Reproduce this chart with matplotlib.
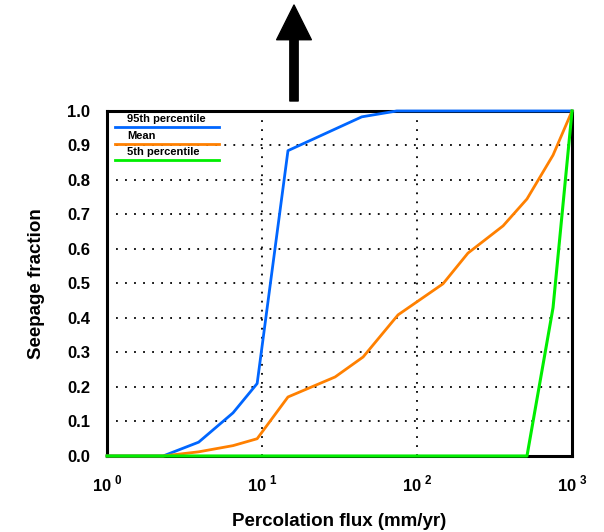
import matplotlib
matplotlib.use('Agg')
import matplotlib.pyplot as plt

plt.rcParams['font.family'] = ['Liberation Sans', 'DejaVu Sans']
plt.rcParams['font.weight'] = 'bold'
plt.rcParams['mathtext.fontset'] = 'custom'
plt.rcParams['mathtext.rm'] = 'Liberation Sans:bold'
plt.rcParams['mathtext.bf'] = 'Liberation Sans:bold'

# percolation flux (mm/yr) and seepage fraction for each curve
x_95 = [1, 2.3, 3.9, 6.5, 9.3, 14.7, 44, 74, 1000]
y_95 = [0.0, 0.0, 0.04, 0.125, 0.21, 0.885, 0.983, 1.0, 1.0]

x_mean = [1, 2.3, 3.9, 6.5, 9.3, 14.7, 29.6, 44.9, 75.4, 147, 213, 359, 512, 754, 1000]
y_mean = [0.0, 0.0, 0.012, 0.03, 0.05, 0.171, 0.229, 0.287, 0.409, 0.499, 0.588, 0.667, 0.745, 0.872, 1.0]

x_5 = [1, 512, 754, 1000]
y_5 = [0.0, 0.0, 0.43, 1.0]

labels = ['95th percentile', 'Mean', '5th percentile']
colors = ['#0066ff', '#ff8000', '#00ee00']

fig = plt.figure(figsize=(6.04, 5.32), dpi=100)
ax = fig.add_axes([0.1772, 0.1429, 0.7699, 0.6485])

ax.set_xscale('log')
ax.set_xlim(1, 1000)
ax.set_ylim(0, 1.0)

# dotted grid
for xv in [10, 100]:
    ax.axvline(xv, color='black', lw=1.3, ls=(0, (1, 4)), zorder=1)
for yv in [0.1, 0.2, 0.3, 0.4, 0.5, 0.6, 0.7, 0.8, 0.9]:
    ax.axhline(yv, color='black', lw=1.3, ls=(0, (1, 4)), zorder=1)

ax.plot(x_95, y_95, color=colors[0], lw=2, zorder=3, clip_on=False)
ax.plot(x_mean, y_mean, color=colors[1], lw=2, zorder=3, clip_on=False)
ax.plot(x_5, y_5, color=colors[2], lw=2.2, zorder=4, clip_on=False)

# legend: label above its line
leg_y = [0.977, 0.928, 0.881]
for lab, col, ty in zip(labels, colors, leg_y):
    ax.text(0.043, ty, lab, transform=ax.transAxes, fontsize=8,
            fontweight='bold', va='center', ha='left', zorder=5)
    ax.plot([0.017, 0.241], [ty - 0.024, ty - 0.024], transform=ax.transAxes,
            color=col, lw=2, zorder=5)

ax.set_xticks([1, 10, 100, 1000])
ax.set_xticklabels([r'$10^{\ 0}$', r'$10^{\ 1}$', r'$10^{\ 2}$', r'$10^{\ 3}$'])
ax.minorticks_off()
ax.set_yticks([i / 10 for i in range(11)])
ax.set_yticklabels(['%.1f' % (i / 10) for i in range(11)])
ax.tick_params(axis='both', length=0, labelsize=12)
ax.tick_params(axis='y', pad=12)
ax.tick_params(axis='x', pad=13)
for t in ax.get_xticklabels() + ax.get_yticklabels():
    t.set_fontweight('bold')

for s in ax.spines.values():
    s.set_linewidth(2.2)
    s.set_color('black')

ax.set_xlabel('Percolation flux (mm/yr)', fontsize=13.5, fontweight='bold', labelpad=13)
ax.set_ylabel('Seepage fraction', fontsize=13.5, fontweight='bold', labelpad=16)

# big upward arrow above the plot
ax.annotate('', xy=(294, 527), xytext=(294, 431), xycoords='figure pixels',
            textcoords='figure pixels',
            arrowprops=dict(arrowstyle='simple,head_length=25,head_width=25,tail_width=6',
                            color='black', mutation_scale=1, shrinkA=0, shrinkB=0))

fig.savefig('out.png', dpi=100)
